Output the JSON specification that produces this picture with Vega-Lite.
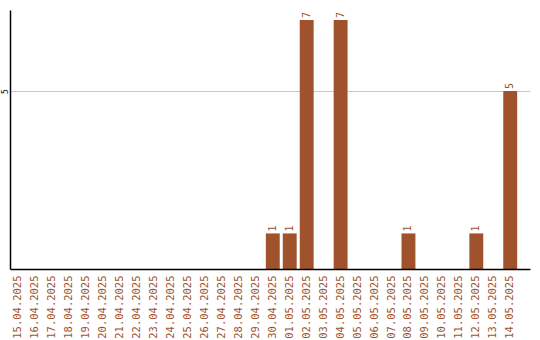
{
  "$schema": "https://vega.github.io/schema/vega-lite/v6.json",
  "autosize": {"type": "none"},
  "padding": {"left": 10, "top": 10, "right": 10, "bottom": 71},
  "width": 520,
  "height": 259,
  "background": "white",
  "config": {"view": {"stroke": null}},
  "data": {
    "values": [
      {"date": "15.04.2025", "count": 0},
      {"date": "16.04.2025", "count": 0},
      {"date": "17.04.2025", "count": 0},
      {"date": "18.04.2025", "count": 0},
      {"date": "19.04.2025", "count": 0},
      {"date": "20.04.2025", "count": 0},
      {"date": "21.04.2025", "count": 0},
      {"date": "22.04.2025", "count": 0},
      {"date": "23.04.2025", "count": 0},
      {"date": "24.04.2025", "count": 0},
      {"date": "25.04.2025", "count": 0},
      {"date": "26.04.2025", "count": 0},
      {"date": "27.04.2025", "count": 0},
      {"date": "28.04.2025", "count": 0},
      {"date": "29.04.2025", "count": 0},
      {"date": "30.04.2025", "count": 1},
      {"date": "01.05.2025", "count": 1},
      {"date": "02.05.2025", "count": 7},
      {"date": "03.05.2025", "count": 0},
      {"date": "04.05.2025", "count": 7},
      {"date": "05.05.2025", "count": 0},
      {"date": "06.05.2025", "count": 0},
      {"date": "07.05.2025", "count": 0},
      {"date": "08.05.2025", "count": 1},
      {"date": "09.05.2025", "count": 0},
      {"date": "10.05.2025", "count": 0},
      {"date": "11.05.2025", "count": 0},
      {"date": "12.05.2025", "count": 1},
      {"date": "13.05.2025", "count": 0},
      {"date": "14.05.2025", "count": 5}
    ]
  },
  "encoding": {
    "x": {
      "field": "date",
      "type": "nominal",
      "sort": null,
      "scale": {"paddingInner": 0.18, "paddingOuter": 0.42, "align": 0.1},
      "axis": {
        "title": null,
        "labelAngle": -90,
        "labelAlign": "right",
        "labelBaseline": "middle",
        "labelFont": "DejaVu Sans Mono",
        "labelFontSize": 10.5,
        "labelColor": "#a0522d",
        "labelPadding": 6,
        "ticks": false,
        "domainColor": "black",
        "domainWidth": 1.5,
        "domainOpacity": 1,
        "grid": false,
        "zindex": 1
      }
    },
    "y": {
      "field": "count",
      "type": "quantitative",
      "scale": {"domain": [0, 7.28], "nice": false},
      "axis": {
        "title": null,
        "values": [5],
        "labelAngle": -90,
        "labelAlign": "center",
        "labelBaseline": "middle",
        "labelFont": "DejaVu Sans Mono",
        "labelFontSize": 8,
        "labelColor": "black",
        "labelPadding": 5,
        "ticks": false,
        "domainColor": "black",
        "domainWidth": 1.5,
        "grid": true,
        "gridColor": "#c8c8c8",
        "gridWidth": 1
      }
    }
  },
  "layer": [
    {
      "mark": {"type": "bar", "color": "#a0522d"}
    },
    {
      "transform": [{"filter": "datum.count > 0"}],
      "mark": {
        "type": "text",
        "angle": 270,
        "align": "left",
        "baseline": "middle",
        "dx": 2,
        "font": "DejaVu Sans Mono",
        "fontSize": 10,
        "color": "#a0522d"
      },
      "encoding": {"text": {"field": "count", "type": "quantitative"}}
    }
  ]
}
